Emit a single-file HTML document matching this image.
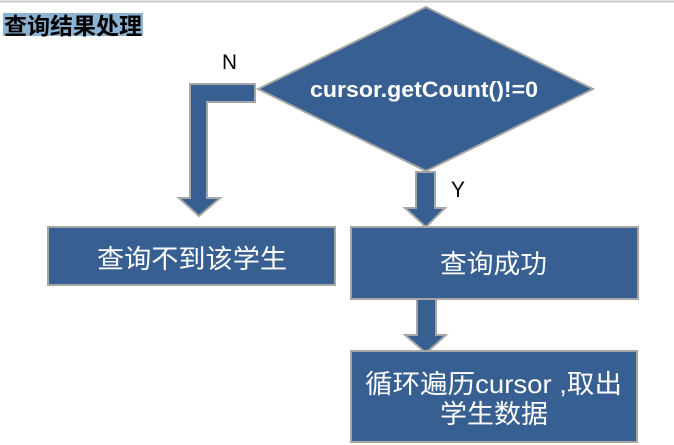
<!DOCTYPE html>
<html>
<head>
<meta charset="utf-8">
<style>
html,body{margin:0;padding:0;background:#fff;}
body{width:674px;height:445px;overflow:hidden;}
svg{display:block;}
</style>
</head>
<body>
<svg width="674" height="445" viewBox="0 0 674 445" xmlns="http://www.w3.org/2000/svg">
  <rect x="0" y="0" width="674" height="445" fill="#ffffff"/>
  <line x1="0" y1="1.5" x2="674" y2="1.5" stroke="#c8c8c8" stroke-width="2"/>

  <!-- Title -->
  <rect x="3" y="13" width="140" height="23" fill="#8db3d3"/>
  <text x="4" y="34" font-family="'Liberation Sans','Noto Sans CJK SC',sans-serif" font-weight="bold" font-size="23" fill="#000" textLength="138" lengthAdjust="spacingAndGlyphs">查询结果处理</text>

  <g fill="#375f92" stroke="#a6a6a6" stroke-width="2" stroke-linejoin="miter">
    <!-- Diamond -->
    <polygon points="426,7 593,89 426,171 258,89"/>
    <!-- N bent arrow -->
    <polygon points="190,84 255,84 255,102 207,102 207,198 220,198 199,216 179,198 190,198"/>
    <!-- Y arrow -->
    <polygon points="416,172 435,172 435,208 445,208 426,227 405,208 416,208"/>
    <!-- Left box -->
    <rect x="48" y="227" width="287" height="58"/>
    <!-- Right box 1 -->
    <rect x="351" y="227" width="287" height="72"/>
    <!-- Arrow 3 -->
    <polygon points="417,299 436,299 436,335 446,335 426,353 405,335 417,335"/>
    <!-- Right box 2 -->
    <rect x="351" y="351" width="286" height="91"/>
  </g>

  <!-- Diamond text -->
  <text x="310" y="97" font-family="'Liberation Sans',sans-serif" font-weight="bold" font-size="22" fill="#ffffff" textLength="228" lengthAdjust="spacingAndGlyphs">cursor.getCount()!=0</text>

  <!-- Labels -->
  <text x="222" y="69" font-family="'Liberation Sans',sans-serif" font-size="21" fill="#000" textLength="15" lengthAdjust="spacingAndGlyphs">N</text>
  <text x="451" y="197" font-family="'Liberation Sans',sans-serif" font-size="22" fill="#000" textLength="14" lengthAdjust="spacingAndGlyphs">Y</text>

  <!-- Box texts -->
  <g font-family="'Liberation Sans','Noto Sans CJK SC',sans-serif" font-size="26" fill="#ffffff">
    <text x="97" y="268" textLength="190" lengthAdjust="spacingAndGlyphs">查询不到该学生</text>
    <text x="440" y="273" textLength="107" lengthAdjust="spacingAndGlyphs">查询成功</text>
    <text x="365" y="393" textLength="257" lengthAdjust="spacingAndGlyphs">循环遍历cursor ,取出</text>
    <text x="440" y="423" textLength="108" lengthAdjust="spacingAndGlyphs">学生数据</text>
  </g>
</svg>
</body>
</html>
